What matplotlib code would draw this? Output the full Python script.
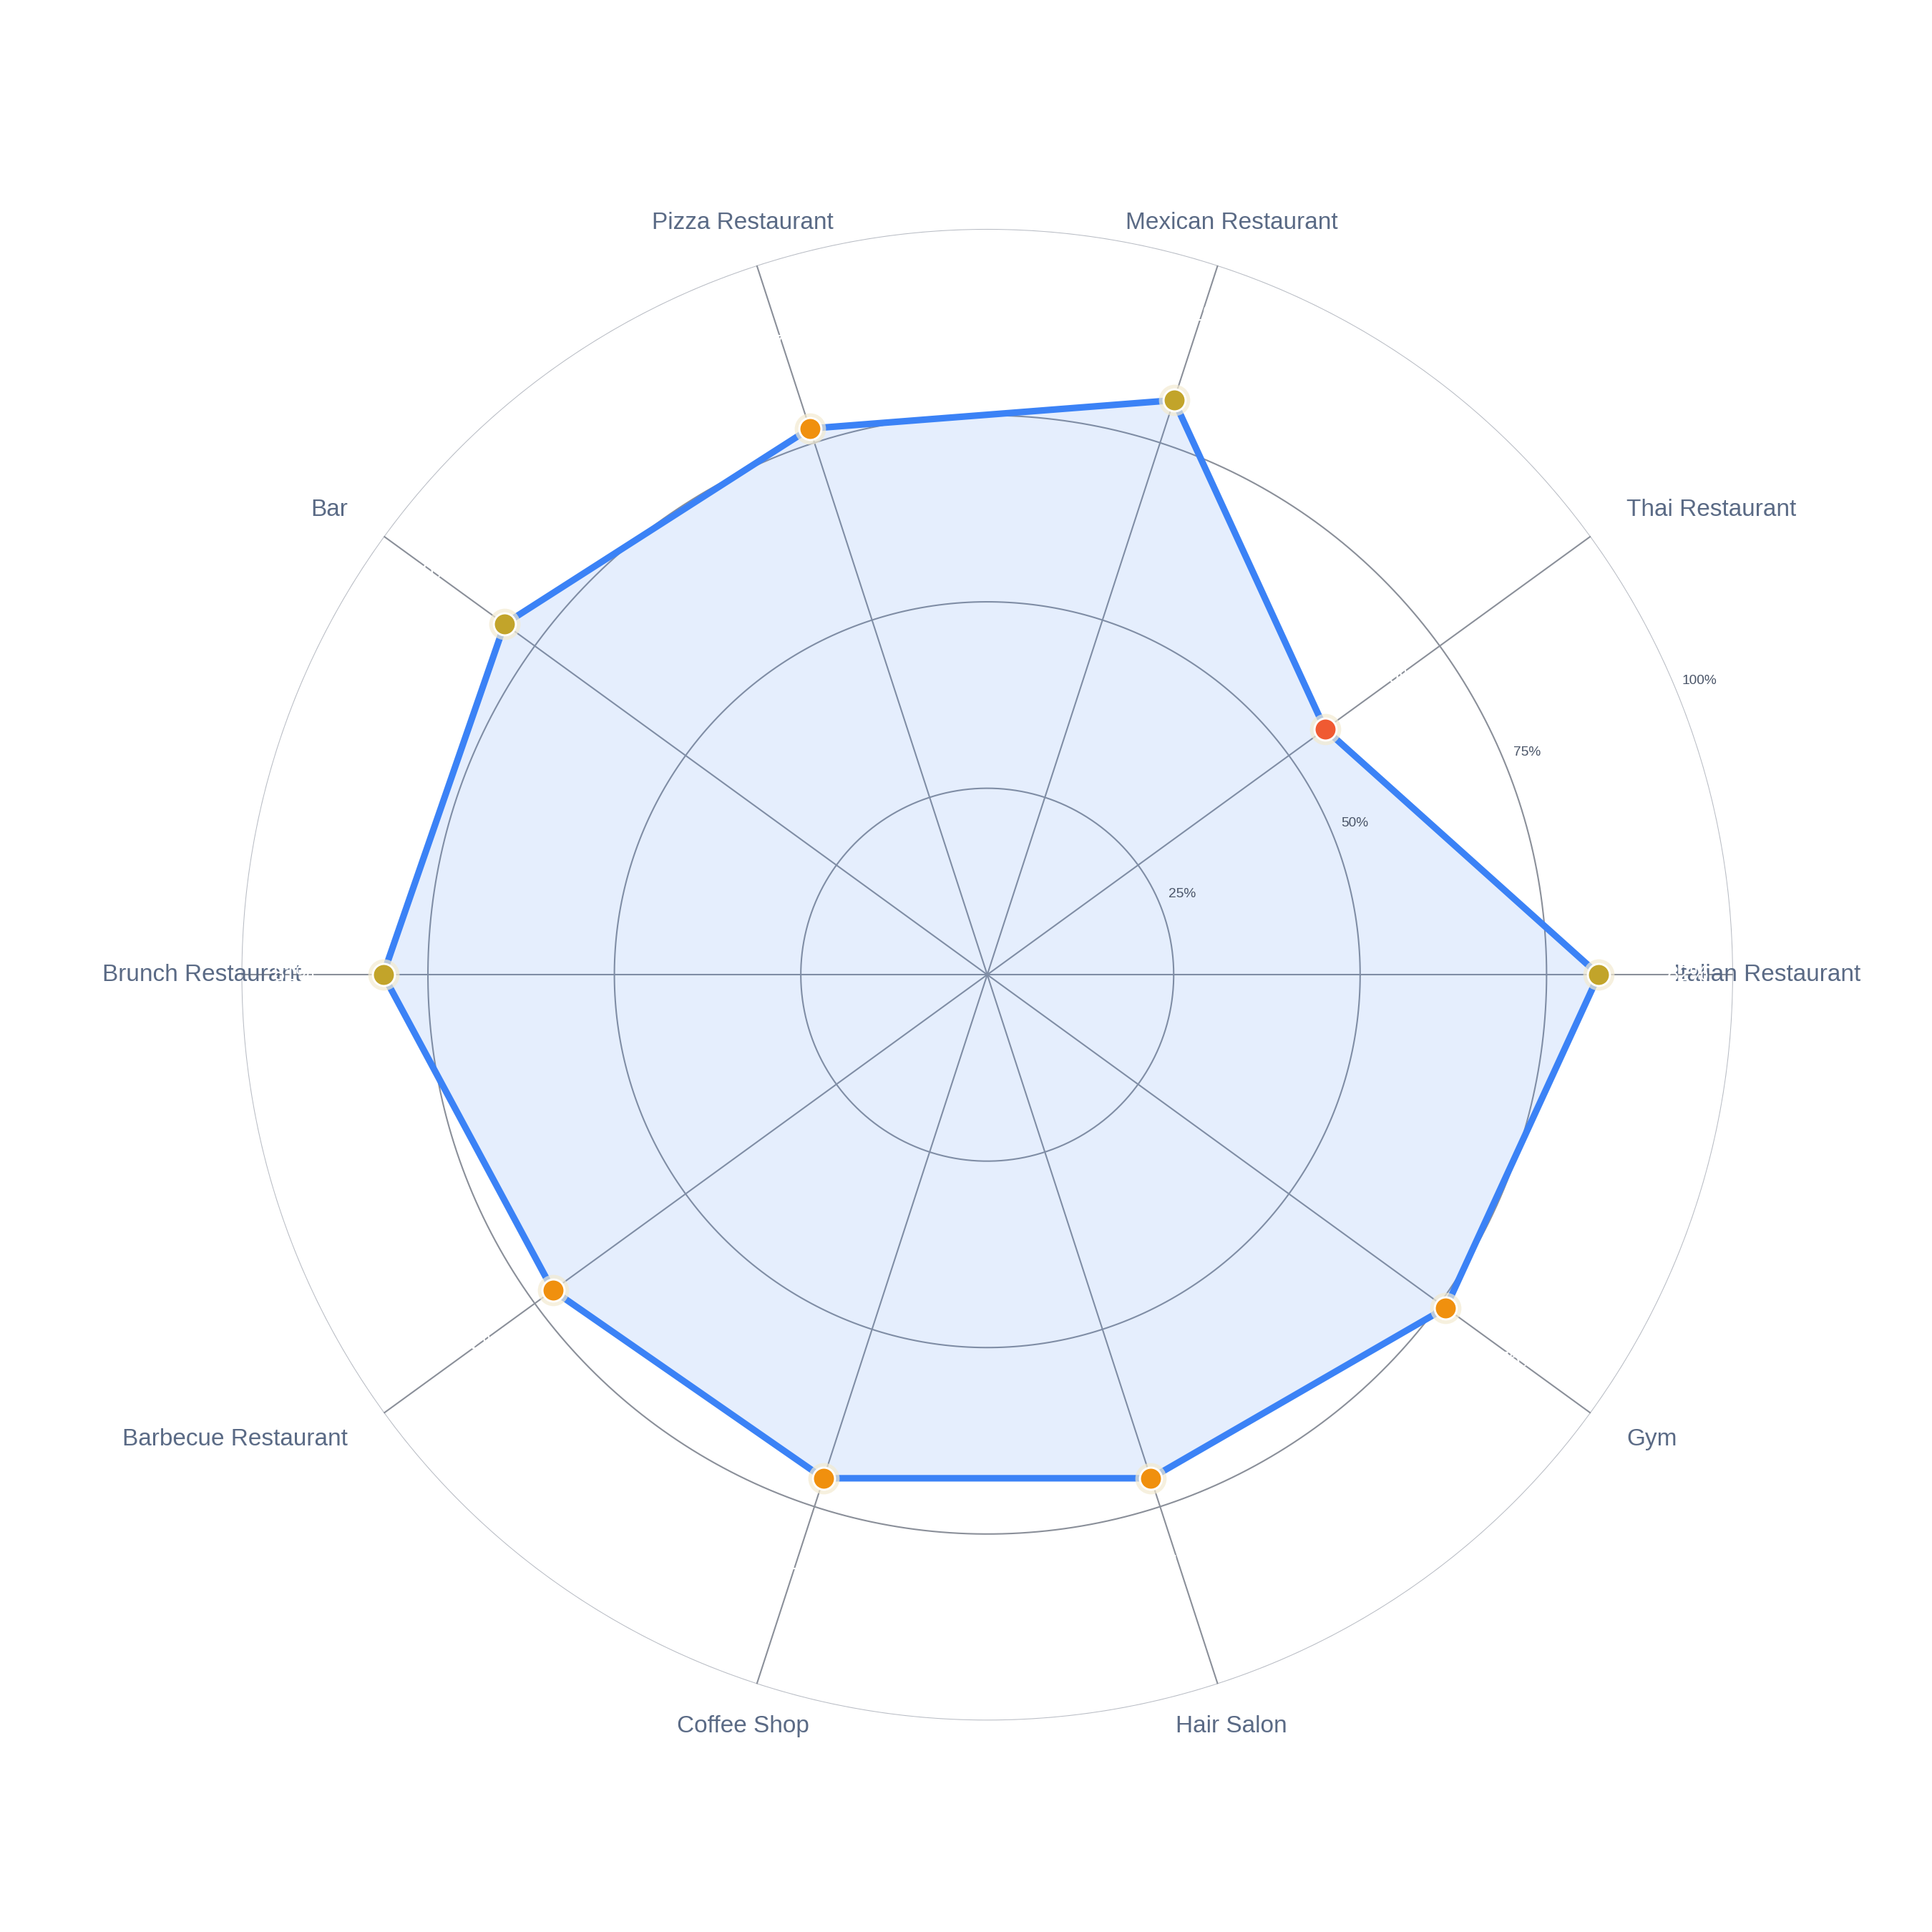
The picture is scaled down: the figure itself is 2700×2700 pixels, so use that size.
import numpy as np
import matplotlib
matplotlib.use("Agg")
import matplotlib.pyplot as plt

categories = ["Italian Restaurant", "Thai Restaurant", "Mexican Restaurant", "Pizza Restaurant", "Bar",
              "Brunch Restaurant", "Barbecue Restaurant", "Coffee Shop", "Hair Salon", "Gym"]
values = [82, 56, 81, 77, 80, 81, 72, 71, 71, 76]
radial_ticks = [25, 50, 75, 100]
radial_labels = ["25%", "50%", "75%", "100%"]

def mcolor(v):
    if v >= 80: return "#C2A42A"
    if v >= 60: return "#F0900E"
    return "#F05A32"

plt.rcParams['font.family'] = ['Liberation Sans', 'DejaVu Sans']
fig = plt.figure(figsize=(9, 9), dpi=300)
w = 0.772
ax = fig.add_axes([0.511 - w/2, 1 - 0.5045 - w/2, w, w], projection='polar')
ax.set_ylim(0, 100)
ax.grid(False)
ax.set_xticks([]); ax.set_yticks([])
ax.spines['polar'].set_visible(False)

n = len(categories)
theta = np.deg2rad(np.arange(n) * 360 / n)
tt = np.linspace(0, 2*np.pi, 400)
for r in radial_ticks:
    ax.plot(tt, [r]*len(tt), color="#8a8f99" if r < 100 else "#b8bcc4", lw=0.5, zorder=1)
for t in theta:
    ax.plot([t, t], [0, 100], color="#8a8f99", lw=0.5, zorder=1)
ra = np.deg2rad(22.4)
for r, l in zip(radial_ticks, radial_labels):
    ax.text(ra, r + 3.3, l, fontsize=4.6, color="#4a5568", ha='center', va='center')

tc = np.append(theta, theta[0]); vc = values + [values[0]]
ax.fill(tc, vc, color="#3B82F6", alpha=0.13, zorder=2, lw=0)
ax.plot(tc, vc, color="#3B82F6", lw=2.2, zorder=3)
for t, v in zip(theta, values):
    ax.plot(t, v, 'o', ms=10.5, color="#f3ead0", alpha=0.7, zorder=4, mec='none')
    ax.plot(t, v, 'o', ms=7.4, color=mcolor(v), mec='white', mew=0.7, zorder=5)
    ax.text(t, v + 12, f"{v}%", fontsize=7, color="white", ha='center', va='center', zorder=6)

for t, c in zip(theta, categories):
    d = np.rad2deg(t)
    if abs(d) < 1:
        ax.text(t, 92, c, fontsize=8, color="#5a6a85", ha='left', va='center')
    elif abs(d - 180) < 1:
        ax.text(t, 92, c, fontsize=8, color="#5a6a85", ha='right', va='center')
    else:
        ha = 'center'
        if 20 < d < 70 or 290 < d < 340: ha = 'left'
        if 110 < d < 160 or 200 < d < 250: ha = 'right'
        ax.text(t, 106, c, fontsize=8, color="#5a6a85", ha=ha, va='center')

fig.savefig("out.png", dpi=300, facecolor="white")
